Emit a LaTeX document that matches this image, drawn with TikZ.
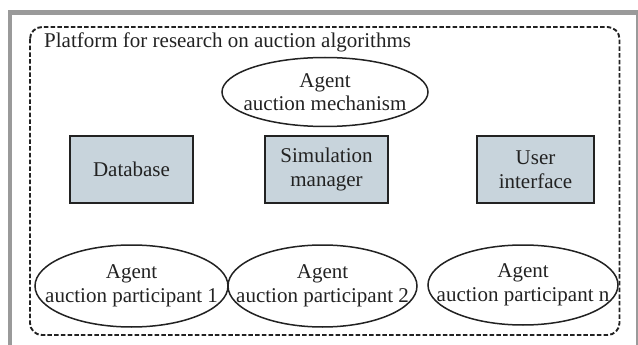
\documentclass[tikz,border=0pt]{standalone}
\usepackage{fontspec}
\setmainfont{Liberation Serif}
\usetikzlibrary{shapes.geometric}
\definecolor{framegray}{HTML}{9A9A9A}
\definecolor{boxfill}{HTML}{C8D4DC}
\definecolor{ink}{HTML}{222222}
\tikzset{
  txt/.style={align=center, text=ink, inner sep=0pt, font=\fontsize{21}{23.5}\selectfont},
  agent/.style={ellipse, draw=ink, line width=1.5pt, inner sep=0pt},
  module/.style={rectangle, draw=ink, line width=2pt, fill=boxfill, inner sep=0pt, txt},
  platform/.style={draw=ink, line width=1.9pt, dash pattern=on 4.5pt off 2.2pt, rounded corners=12pt},
}
\begin{document}
\begin{tikzpicture}[x=1pt,y=-1pt]
\useasboundingbox (0,0) rectangle (638,345);
% outer gray frame
\draw[framegray, line width=4.5pt] (10,360) -- (10,12.5) -- (636,12.5);
\draw[framegray, line width=2pt] (637,10.25) -- (637,360);
% platform
\draw[platform] (30,27) rectangle (619.5,335);
\node[anchor=base west, txt] (title) at (44,48) {Platform for research on auction algorithms};
% nodes
\node[agent, minimum width=206pt, minimum height=69pt] (mech) at (325,92) {};
\node[txt] (mechT) at (mech) {Agent\\auction mechanism};
\node[module, minimum width=123pt, minimum height=67pt] (db) at (131.5,169.5) {Database};
\node[module, minimum width=123pt, minimum height=67pt] (sim) at (326.5,169.5) {Simulation\\manager};
\node[module, minimum width=117pt, minimum height=67pt] (ui) at (535.5,169.5) {User\\interface};
\node[agent, minimum width=193pt, minimum height=82pt] (p1) at (131.5,286) {};
\node[txt] (p1T) at (p1) {Agent\\auction participant 1};
\node[agent, minimum width=189pt, minimum height=82pt] (p2) at (322.5,286) {};
\node[txt] (p2T) at (p2) {Agent\\auction participant 2};
\node[agent, minimum width=190pt, minimum height=80pt] (pn) at (523,285) {};
\node[txt] (pnT) at (pn) {Agent\\auction participant n};
\end{tikzpicture}
\end{document}
